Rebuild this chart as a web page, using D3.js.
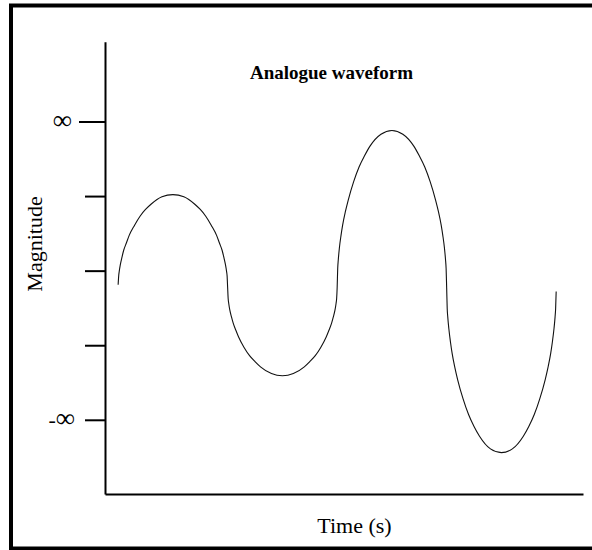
<!DOCTYPE html>
<html>
<head>
<meta charset="utf-8">
<script src="https://cdn.jsdelivr.net/npm/d3@7"></script>
<style>
  html, body { margin: 0; padding: 0; background: #fff; }
  svg { display: block; }
</style>
</head>
<body>
<svg id="chart" width="592" height="550"></svg>
<script>
// ---- data ----
const title = "Analogue waveform";
const xLabel = "Time (s)";
const yLabel = "Magnitude";

const yTickValues = [-2, -1, 0, 1, 2];
const yTickLabels = ["-∞", "", "", "", "∞"];

const time = [
  0, 0.005, 0.01, 0.02, 0.035, 0.05, 0.075, 0.1, 0.15, 0.2, 0.25, 0.3, 0.4, 0.5, 0.6, 0.7, 0.75, 0.8, 0.85, 0.9, 0.925, 0.95, 0.965, 0.98, 0.99, 0.995,
  1, 1.005, 1.01, 1.02, 1.035, 1.05, 1.075, 1.1, 1.15, 1.2, 1.25, 1.3, 1.4, 1.5, 1.6, 1.7, 1.75, 1.8, 1.85, 1.9, 1.925, 1.95, 1.965, 1.98, 1.99, 1.995,
  2, 2.005, 2.01, 2.02, 2.035, 2.05, 2.075, 2.1, 2.15, 2.2, 2.25, 2.3, 2.4, 2.5, 2.6, 2.7, 2.75, 2.8, 2.85, 2.9, 2.925, 2.95, 2.965, 2.98, 2.99, 2.995,
  3, 3.005, 3.01, 3.02, 3.035, 3.05, 3.075, 3.1, 3.15, 3.2, 3.25, 3.3, 3.4, 3.5, 3.6, 3.7, 3.75, 3.8, 3.85, 3.9, 3.925, 3.95, 3.965, 3.98, 3.99, 3.995,
  4
];
const magnitude = [
  -0.19, -0.07, -0.01, 0.08, 0.18, 0.27, 0.37, 0.47, 0.61, 0.73, 0.82, 0.89, 0.99, 1.02, 0.99, 0.89, 0.82, 0.73, 0.61, 0.47, 0.37, 0.27, 0.18, 0.08, -0.01, -0.07,
  -0.23, -0.38, -0.44, -0.53, -0.62, -0.70, -0.80, -0.89, -1.03, -1.14, -1.22, -1.29, -1.38, -1.41, -1.38, -1.29, -1.22, -1.14, -1.03, -0.89, -0.80, -0.70, -0.62, -0.53, -0.44, -0.38,
  -0.23, 0.03, 0.14, 0.30, 0.47, 0.61, 0.79, 0.94, 1.19, 1.39, 1.54, 1.67, 1.83, 1.88, 1.83, 1.67, 1.54, 1.39, 1.19, 0.94, 0.79, 0.61, 0.47, 0.30, 0.14, 0.03,
  -0.23, -0.51, -0.62, -0.78, -0.96, -1.11, -1.30, -1.46, -1.72, -1.93, -2.09, -2.22, -2.39, -2.44, -2.39, -2.22, -2.09, -1.93, -1.72, -1.46, -1.30, -1.11, -0.96, -0.78, -0.62, -0.51,
  -0.28
];

// ---- layout ----
const svg = d3.select("#chart");
const serif = "'Liberation Serif', 'Times New Roman', serif";

// frame
svg.append("rect")
  .attr("x", 11).attr("y", 5.5)
  .attr("width", 590).attr("height", 543)
  .attr("fill", "none").attr("stroke", "#000").attr("stroke-width", 4);

const x = d3.scaleLinear().domain([-0.12, 4.245]).range([105, 583]);
const y = d3.scaleLinear().domain([-2.995, 3.07]).range([494, 41.7]);

// y axis
const yAxis = svg.append("g")
  .attr("transform", `translate(${x(-0.12)},0)`)
  .call(d3.axisLeft(y)
    .tickValues(yTickValues)
    .tickFormat((d, i) => yTickLabels[i])
    .tickSize(20)
    .tickSizeOuter(0)
    .tickPadding(10));
yAxis.select(".domain").attr("stroke", "#000").attr("stroke-width", 2);
yAxis.selectAll(".tick line").attr("stroke", "#000").attr("stroke-width", 2);
yAxis.selectAll(".tick text")
  .attr("font-family", serif).attr("font-size", 22).attr("fill", "#000")
  .each(function() {
    const t = d3.select(this);
    const s = t.text();
    if (!s) return;
    t.text(null);
    for (const ch of s) {
      t.append("tspan")
        .attr("font-size", ch === "∞" ? 27 : 22)
        .text(ch);
    }
  });
yAxis.selectAll(".tick").filter(d => d === 2).select("line").attr("x2", -26);
yAxis.selectAll(".tick").filter(d => d === 2).select("text").attr("x", -33);

// x axis
const xAxis = svg.append("g")
  .attr("transform", `translate(0,${y(-2.995)})`)
  .call(d3.axisBottom(x).tickValues([]).tickSizeOuter(0));
xAxis.select(".domain").attr("stroke", "#000").attr("stroke-width", 2);

// waveform
const pts = time.map((t, i) => [t, magnitude[i]]);
const line = d3.line()
  .x(d => x(d[0]))
  .y(d => y(d[1]))
  .curve(d3.curveMonotoneX);
svg.append("path")
  .datum(pts)
  .attr("d", line)
  .attr("fill", "none")
  .attr("stroke", "#111")
  .attr("stroke-width", 1.1);

// texts
svg.append("text")
  .attr("x", 331.5).attr("y", 79)
  .attr("text-anchor", "middle")
  .attr("font-family", serif).attr("font-weight", "bold").attr("font-size", 19)
  .text(title);

svg.append("text")
  .attr("x", 354.5).attr("y", 533)
  .attr("text-anchor", "middle")
  .attr("font-family", serif).attr("font-size", 22)
  .text(xLabel);

svg.append("text")
  .attr("transform", "translate(42,244) rotate(-90)")
  .attr("text-anchor", "middle")
  .attr("font-family", serif).attr("font-size", 22)
  .text(yLabel);
</script>
</body>
</html>
